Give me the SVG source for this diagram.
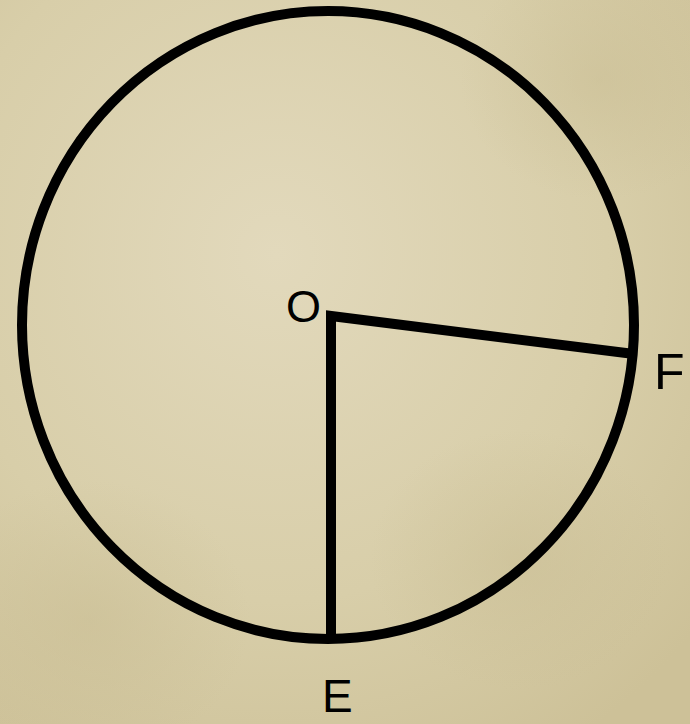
<svg xmlns="http://www.w3.org/2000/svg" width="690" height="724" viewBox="0 0 690 724">
<defs>
<radialGradient id="bg" cx="0.4" cy="0.35" r="0.8">
<stop offset="0" stop-color="#e2d9bc"/>
<stop offset="0.6" stop-color="#d8cea9"/>
<stop offset="1" stop-color="#cdc198"/>
</radialGradient>
<radialGradient id="sp1" cx="0.5" cy="0.5" r="0.5">
<stop offset="0" stop-color="#c9bd93" stop-opacity="0.5"/>
<stop offset="1" stop-color="#c9bd93" stop-opacity="0"/>
</radialGradient>
<style>
.ln{fill:none;stroke:#000;stroke-width:10;stroke-linecap:butt}
.lbl{font-family:"Liberation Sans",Arial,sans-serif;fill:#000}
</style>
</defs>
<rect width="690" height="724" fill="url(#bg)"/>
<ellipse cx="90" cy="620" rx="160" ry="140" fill="url(#sp1)"/>
<ellipse cx="600" cy="80" rx="140" ry="120" fill="url(#sp1)"/>
<ellipse cx="520" cy="560" rx="150" ry="130" fill="url(#sp1)"/>
<g id="circle">
<ellipse class="ln" cx="328" cy="325" rx="306" ry="314"/>
</g>
<g id="connectors">
<polyline class="ln" points="331,640 331,316 634,354" stroke-linejoin="miter"/>
</g>
<g id="O"><text class="lbl" x="286" y="322" font-size="45">O</text></g>
<g id="F"><text class="lbl" x="654" y="389" font-size="50">F</text></g>
<g id="E"><text class="lbl" x="322" y="712" font-size="46">E</text></g>
</svg>
